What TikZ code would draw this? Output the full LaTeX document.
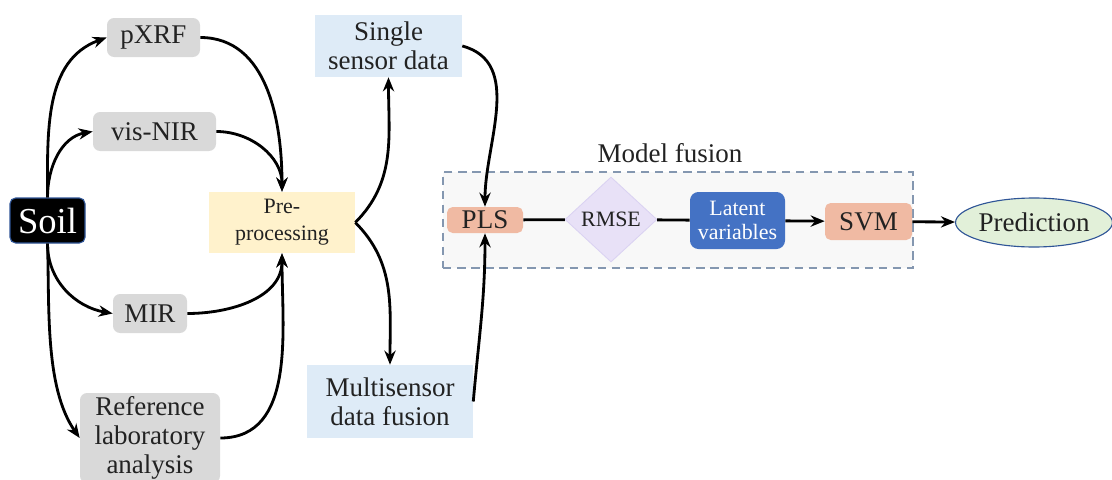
\documentclass[tikz,border=0pt]{standalone}
\usepackage{fontspec}
\setmainfont{LiberationSerif}[Extension=.ttf, UprightFont=*-Regular, BoldFont=*-Bold, ItalicFont=*-Italic, BoldItalicFont=*-BoldItalic]
\usetikzlibrary{shapes.geometric,arrows.meta,backgrounds}
\definecolor{boxgray}{HTML}{D9D9D9}
\definecolor{preyellow}{HTML}{FFF2CC}
\definecolor{lightblue}{HTML}{DEEBF7}
\definecolor{salmon}{HTML}{F0BAA3}
\definecolor{lavender}{HTML}{E8E1F7}
\definecolor{lavborder}{HTML}{DAD2F2}
\definecolor{latblue}{HTML}{4472C4}
\definecolor{predgreen}{HTML}{E2F0D9}
\definecolor{predborder}{HTML}{2F5597}
\definecolor{dashblue}{HTML}{8497B0}
\definecolor{boxbg}{HTML}{F8F8F8}
\definecolor{txt}{HTML}{222222}
\begin{document}
\begin{tikzpicture}[x=0.025cm,y=-0.025cm,
  base/.style={inner sep=0pt, align=center, font=\fontsize{19.2}{20.5}\selectfont, text=txt},
  small/.style={font=\fontsize{15.6}{19}\selectfont},
  graybox/.style={base, fill=boxgray, rounded corners=5pt},
  bluebox/.style={base, fill=lightblue},
  salmonbox/.style={base, fill=salmon, rounded corners=4pt},
  conn/.style={line width=2pt, -{Stealth[length=10pt,width=8pt]}},
  plainline/.style={line width=2pt},
]
\path[use as bounding box] (0,0) rectangle (1112,480);

% model fusion frame
\node[draw=dashblue, fill=boxbg, line width=1.2pt, dash pattern=on 6pt off 4pt,
      minimum width=470*0.025cm, minimum height=96*0.025cm, inner sep=0pt] (frame) at (678,220) {};
\node[base] (mflabel) at (670,153) {Model fusion};

% left nodes
\node[base, fill=black, draw=predborder, line width=0.8pt, rounded corners=4pt, text=white,
      font=\fontsize{26}{28}\selectfont, minimum width=75*0.025cm, minimum height=45*0.025cm] (soil) at (47.5,220.5) {Soil};
\node[graybox, minimum width=93*0.025cm, minimum height=39*0.025cm] (pxrf) at (153.5,37.5) {pXRF};
\node[graybox, minimum width=123*0.025cm, minimum height=39*0.025cm] (vis) at (154.5,131.5) {vis-NIR};
\node[graybox, minimum width=74*0.025cm, minimum height=39*0.025cm] (mir) at (150,313.5) {MIR};
\node[graybox, minimum width=140*0.025cm, minimum height=90*0.025cm] (ref) at (150,438) {Reference\\laboratory\\analysis};
\node[base, small, fill=preyellow, minimum width=146*0.025cm, minimum height=61*0.025cm] (pre) at (282,222.5) {Pre-\\processing};
\node[bluebox, minimum width=147*0.025cm, minimum height=62*0.025cm] (single) at (388.5,46) {Single\\sensor data};
\node[bluebox, minimum width=166*0.025cm, minimum height=73*0.025cm] (multi) at (390,401.5) {Multisensor\\data fusion};

% model fusion nodes
\node[salmonbox, minimum width=76*0.025cm, minimum height=26*0.025cm] (pls) at (485,220) {PLS};
\node[base, small, diamond, aspect=1.08, fill=lavender, draw=lavborder, line width=0.6pt,
      minimum width=92*0.025cm, minimum height=85*0.025cm] (rmse) at (611,219.5) {RMSE};
\node[base, font=\fontsize{15.6}{17}\selectfont, fill=latblue, text=white, rounded corners=6pt,
      minimum width=95*0.025cm, minimum height=57*0.025cm] (lat) at (737.5,220.5) {Latent\\variables};
\node[salmonbox, minimum width=87*0.025cm, minimum height=37*0.025cm] (svm) at (868.5,221.5) {SVM};
\node[base, ellipse, fill=predgreen, draw=predborder, line width=0.8pt,
      minimum width=154*0.025cm, minimum height=49*0.025cm] (pred) at (1034,222.5) {Prediction};

% connectors
\draw[conn] (soil.north) to[out=90,in=200] (pxrf.west);
\draw[conn] (soil.north) to[out=90,in=190] (vis.west);
\draw[conn] (soil.south) to[out=-90,in=170] (mir.west);
\draw[conn] (soil.south) to[out=-88,in=125,looseness=0.8] (ref.west);
\draw[conn] (pxrf.east) to[out=0,in=90] (pre.north);
\draw[conn] (vis.east) to[out=0,in=90] (pre.north);
\draw[conn] (mir.east) to[out=0,in=-90] (pre.south);
\draw[conn] (ref.east) to[out=0,in=-90] (pre.south);
\draw[conn] (pre.east) to[out=45,in=-90] (single.south);
\draw[conn] (pre.east) to[out=-45,in=90] (multi.north);
\draw[conn] (single.east) to[out=-15,in=90] (pls.north);
\draw[conn] (multi.east) to[out=85,in=-90] (pls.south);
\draw[plainline] (pls) -- (rmse);
\draw[plainline] (rmse) -- (lat);
\draw[conn] (lat) -- (svm);
\draw[conn] (svm) -- (pred);
\end{tikzpicture}
\end{document}
